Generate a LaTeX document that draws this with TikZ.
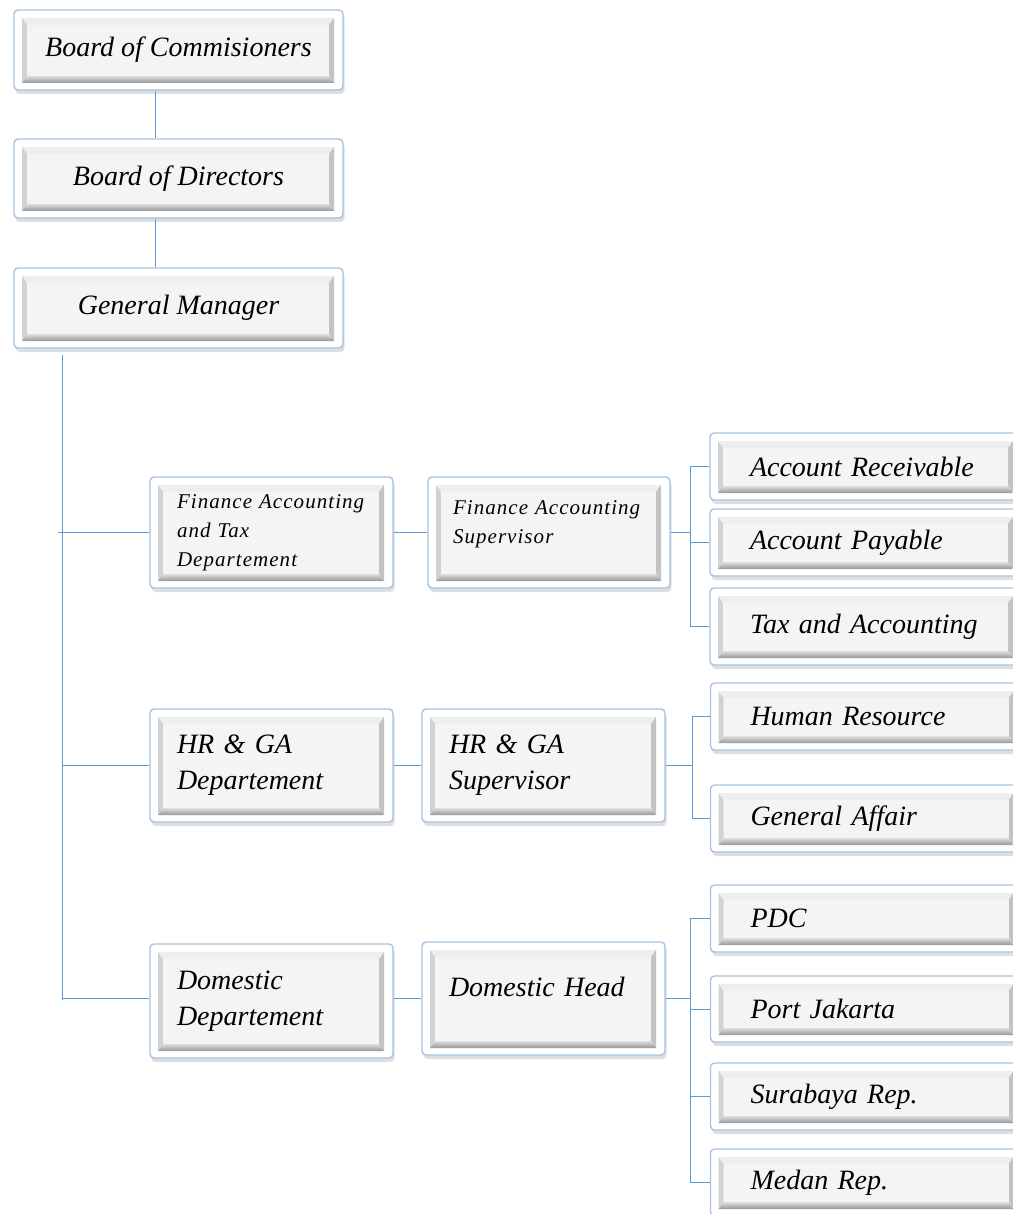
\documentclass[tikz,border=0pt]{standalone}
\usepackage{fontspec}
\setmainfont{Liberation Serif}
\newfontfamily\spacedserif[LetterSpace=5]{Liberation Serif}
\usetikzlibrary{shadows,calc}

\definecolor{linkblue}{RGB}{91,155,213}
\definecolor{boxedge}{RGB}{166,194,226}
\definecolor{bvface}{RGB}{244,244,244}
\definecolor{bvtop}{RGB}{238,238,238}
\definecolor{bvleft}{RGB}{210,210,210}
\definecolor{bvright}{RGB}{195,195,195}
\definecolor{bvbottom}{RGB}{150,150,150}

\newcommand{\boxfont}{\fontsize{28}{36}\selectfont\itshape}
\newcommand{\smallboxfont}{\spacedserif\fontsize{21}{29}\selectfont\itshape}

\tikzset{
  orgbox/.style={draw=boxedge,line width=1.4pt,rounded corners=4pt,fill=white,
    drop shadow={opacity=.25,shadow xshift=1.5pt,shadow yshift=-4pt},
    font=\boxfont,
    path picture={
      \coordinate (pA) at ([shift={(8pt,7pt)}]path picture bounding box.south west);
      \coordinate (pB) at ([shift={(-9pt,-8pt)}]path picture bounding box.north east);
      \coordinate (pC) at ([shift={(5pt,7pt)}]pA);
      \coordinate (pD) at ([shift={(-5pt,-7pt)}]pB);
      \fill[sharp corners,bvtop] (pA |- pB) -- (pB) -- (pD) -- (pC |- pD) -- cycle;
      \fill[sharp corners,bvleft] (pA) -- (pA |- pB) -- (pC |- pD) -- (pC) -- cycle;
      \fill[sharp corners,bvright] (pB) -- (pB |- pA) -- (pD |- pC) -- (pD) -- cycle;
      \shade[sharp corners,top color=gray!25,bottom color=bvbottom] (pA) -- (pB |- pA) -- (pD |- pC) -- (pC) -- cycle;
      \fill[sharp corners,bvface] (pC) rectangle (pD);
    }},
  topbox/.style={orgbox,minimum width=329pt,align=center},
  deptbox/.style={orgbox,minimum width=243pt,text width=189pt,inner xsep=27pt,align=left},
  leafbox/.style={orgbox,minimum width=312pt,text width=232pt,inner xsep=40pt,minimum height=67pt,align=left},
  link/.style={draw=linkblue,line width=1pt}
}

\begin{document}
\begin{tikzpicture}[x=1pt,y=-1pt]
\useasboundingbox (0,0) rectangle (1012,1214);

% top of the chart
\node[topbox,minimum height=80pt] (bc) at (178.5,50) {Board of Commisioners};
\node[topbox,minimum height=79pt] (bd) at (178.5,178.5) {Board of Directors};
\node[topbox,minimum height=80pt] (gm) at (178.5,308) {General Manager};

% departements
\node[deptbox,minimum height=111pt,font=\smallboxfont] (fat) at (271.5,532.5) {Finance Accounting\\and Tax\\Departement};
\node[deptbox,minimum height=113pt] (hrd) at (271.5,765.5) {HR \& GA\\Departement};
\node[deptbox,minimum height=114pt] (dd) at (271.5,1001) {Domestic\\Departement};

% supervisors
\node[deptbox,minimum width=242pt,text width=192pt,inner xsep=25pt,minimum height=111pt,text depth=50pt,font=\smallboxfont] (fas) at (549,532.5) {Finance Accounting\\Supervisor};
\node[deptbox,minimum height=113pt] (hrs) at (543.5,765.5) {HR \& GA\\Supervisor};
\node[deptbox,minimum height=113pt,text depth=24pt] (dh) at (543.5,998.5) {Domestic Head};

% sections
\node[leafbox] (ar) at (866,466.5) {Account Receivable};
\node[leafbox] (ap) at (866,542.5) {Account Payable};
\node[leafbox,minimum height=77pt] (ta) at (866,626.5) {Tax and Accounting};
\node[leafbox] (hr) at (866.5,716.5) {Human Resource};
\node[leafbox] (ga) at (866.5,818.5) {General Affair};
\node[leafbox] (pdc) at (866.5,918.5) {PDC};
\node[leafbox,minimum height=66pt] (pj) at (866.5,1009) {Port Jakarta};
\node[leafbox] (sr) at (866.5,1096.5) {Surabaya Rep.};
\node[leafbox] (mr) at (866.5,1182.5) {Medan Rep.};

% links
\draw[link] ([xshift=-23.5pt]bc.south) -- ([xshift=-23.5pt]bd.north);
\draw[link] ([xshift=-23.5pt]bd.south) -- ([xshift=-23.5pt]gm.north);

\coordinate (gmt) at (62,355);
\coordinate (gmb) at (62,1000);
\draw[link] (gmt) -- (gmb);
\draw[link] ([xshift=-4pt]gmb |- fat.west) -- (fat.west);
\draw[link] (gmb |- hrd.west) -- (hrd.west);
\draw[link] ([yshift=3pt]gmb |- dd.west) -- ([yshift=3pt]dd.west);

\draw[link] (fat.east) -- (fas.west);
\draw[link] (hrd.east) -- (hrs.west);
\draw[link] (dh.west -| dd.east) -- (dh.west);

\draw[link] (fas.east) -- ++(20,0) coordinate (fb);
\draw[link] (ar.west) -- (ar.west -| fb) |- (ta.west);
\draw[link] (ap.west) -- (ap.west -| fb);

\draw[link] (hrs.east) -- ++(27,0) coordinate (hb);
\draw[link] (hr.west) -- (hr.west -| hb) |- (ga.west);

\draw[link] (dh.east) -- ++(25,0) coordinate (db);
\draw[link] (pdc.west) -- (pdc.west -| db) |- (mr.west);
\draw[link] (pj.west) -- (pj.west -| db);
\draw[link] (sr.west) -- (sr.west -| db);

\end{tikzpicture}
\end{document}
